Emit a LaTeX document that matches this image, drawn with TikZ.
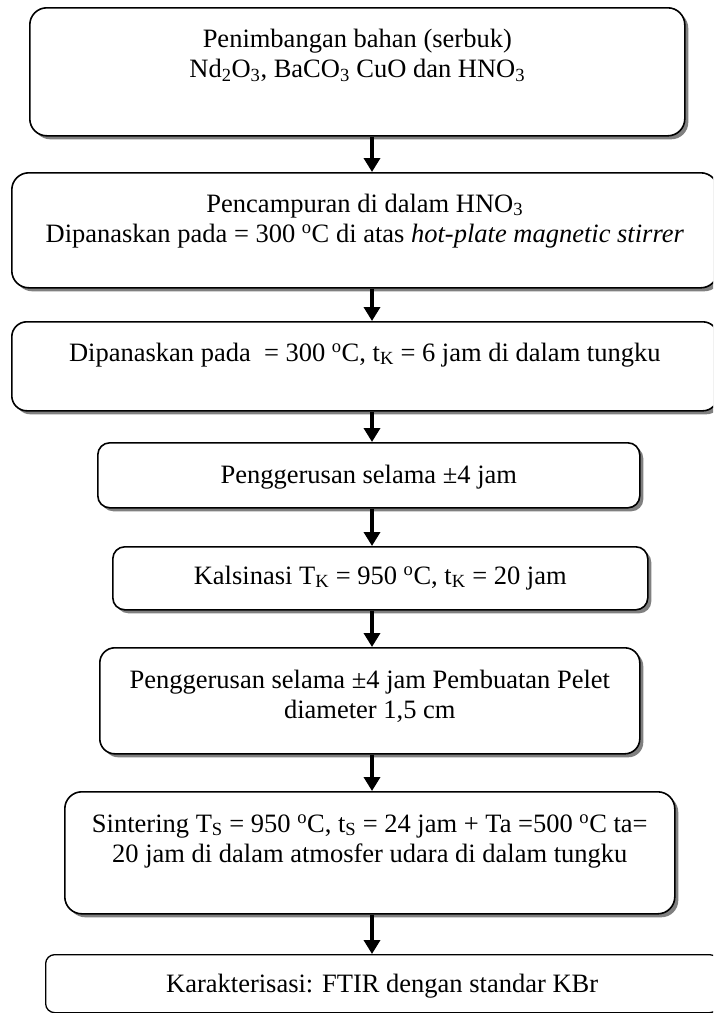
\documentclass[tikz,border=0pt]{standalone}
\usepackage{fontspec}
\setmainfont{Liberation Serif}
\usetikzlibrary{arrows.meta,shadows}
\newcommand\myst{\rule{0pt}{24pt}}
\newcommand\dg{\textsuperscript{o}}
\begin{document}
\begin{tikzpicture}[x=1pt,y=-1pt,
  box/.style={draw=black, line width=1.6pt, fill=white, inner sep=0pt, anchor=north west, rounded corners=#1},
  box/.default=15pt,
  shd/.style={drop shadow={shadow xshift=3.5pt, shadow yshift=-3.5pt, fill=black!50, opacity=1}},
  txt/.style={anchor=north, inner sep=0pt, align=center, font=\fontsize{26.5}{30.5}\selectfont},
  arr/.style={line width=4pt, -{Triangle[width=16pt,length=14pt]}}]
\clip (0,0) rectangle (713,1013);
\fill[white] (0,0) rectangle (713,1013);
\coordinate (ax) at (372,0);
% boxes
\node[box=17pt, shd, minimum width=655pt, minimum height=128pt] (b1) at (29,7) {};
\node[box=17pt, shd, minimum width=706pt, minimum height=115pt] (b2) at (11,172) {};
\node[box=15pt, shd, minimum width=706pt, minimum height=89pt] (b3) at (11,321) {};
\node[box=12pt, shd, minimum width=542pt, minimum height=65pt] (b4) at (97,442) {};
\node[box=12pt, shd, minimum width=535pt, minimum height=63pt] (b5) at (112,546) {};
\node[box=15pt, shd, minimum width=540pt, minimum height=106pt] (b6) at (99,647) {};
\node[box=17pt, shd, minimum width=610pt, minimum height=122pt] (b7) at (64,791) {};
\node[box=9pt, line width=1.3pt, minimum width=673pt, minimum height=58pt] (b8) at (45,954) {};
% texts
\node[txt] (t1) at ([yshift=-16pt]b1.north) {\myst Penimbangan bahan (serbuk)\\Nd\textsubscript{2}O\textsubscript{3}, BaCO\textsubscript{3} CuO dan HNO\textsubscript{3}};
\node[txt] (t2) at ([yshift=-16pt]b2.north) {\myst Pencampuran di dalam HNO\textsubscript{3}\\Dipanaskan pada = 300 \dg C di atas \textit{hot-plate magnetic stirrer}};
\node[txt] (t3) at ([yshift=-16pt]b3.north) {\myst Dipanaskan pada\ \ = 300 \dg C, t\textsubscript{K} = 6 jam di dalam tungku};
\node[txt] (t4) at ([yshift=-17pt]b4.north) {\myst Penggerusan selama ±4 jam};
\node[txt] (t5) at ([yshift=-14pt]b5.north) {\myst Kalsinasi T\textsubscript{K} = 950 \dg C, t\textsubscript{K} = 20 jam};
\node[txt] (t6) at ([yshift=-17pt]b6.north) {\myst Penggerusan selama ±4 jam Pembuatan Pelet\\diameter 1,5 cm};
\node[txt] (t7) at ([yshift=-17pt]b7.north) {\myst Sintering T\textsubscript{S} = 950 \dg C, t\textsubscript{S} = 24 jam + Ta =500 \dg C ta=\\20 jam di dalam atmosfer udara di dalam tungku};
\node[txt] (t8) at ([yshift=-14pt]b8.north) {\myst Karakterisasi: FTIR dengan standar KBr};
% arrows
\draw[arr] (b1.south -| ax) -- (b2.north -| ax);
\draw[arr] (b2.south -| ax) -- (b3.north -| ax);
\draw[arr] (b3.south -| ax) -- (b4.north -| ax);
\draw[arr] (b4.south -| ax) -- (b5.north -| ax);
\draw[arr] (b5.south -| ax) -- (b6.north -| ax);
\draw[arr] (b6.south -| ax) -- (b7.north -| ax);
\draw[arr] (b7.south -| ax) -- (b8.north -| ax);
\end{tikzpicture}
\end{document}
